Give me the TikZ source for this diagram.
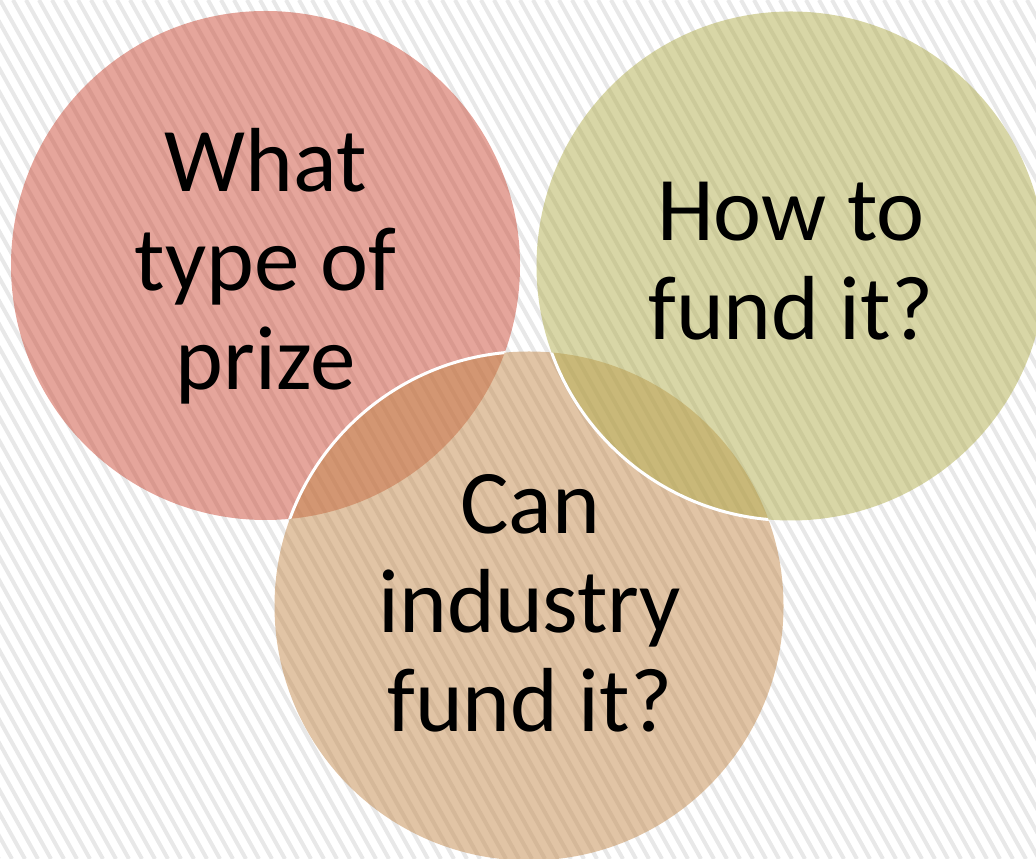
\documentclass[tikz,border=0pt]{standalone}
\usepackage{fontspec}
\setmainfont{Carlito}
\usetikzlibrary{calc}

\definecolor{prizered}{RGB}{203,75,55}
\definecolor{fundgreen}{RGB}{177,173,77}
\definecolor{industan}{RGB}{195,137,75}
\definecolor{stripegray}{RGB}{232,232,232}

\tikzset{
  venn/.style={fill opacity=.5},
  rim/.style={white,line width=3pt},
  question/.style={align=center,inner sep=0pt,anchor=base,
    font=\fontsize{91}{99}\selectfont},
  stripe/.style={stripegray,line width=4pt}
}

\begin{document}
\begin{tikzpicture}[x=1pt,y=1pt]

\useasboundingbox (0,0) rectangle (1036,859);

% hatched background
\begin{scope}
\clip (0,0) rectangle (1036,859);
\foreach \s in {-38,...,80}
  \draw[stripe] (\s*13,859) -- ++(480,-859);
\end{scope}

\coordinate (P) at (265.5,593.5);
\coordinate (F) at (791,593);
\coordinate (I) at (529,253);
\def\rad{254.5}

\fill[venn,prizered] (P) circle (\rad);
\fill[venn,industan] (I) circle (\rad);
\fill[venn,fundgreen] (F) circle (\rad);

% white rims where a circle lies on another
\begin{scope}
\clip (P) circle (\rad);
\draw[rim] (I) circle (\rad);
\end{scope}
\begin{scope}
\clip (I) circle (\rad);
\draw[rim] (F) circle (\rad);
\end{scope}

% base = baseline of the last line
\node[question] (prizetxt) at (265.5,469) {What\\type of\\prize};
\node[question] (fundtxt) at (791,519) {How to\\fund it?};
\node[question] (industrytxt) at (530,127) {Can\\industry\\fund it?};

\end{tikzpicture}
\end{document}
